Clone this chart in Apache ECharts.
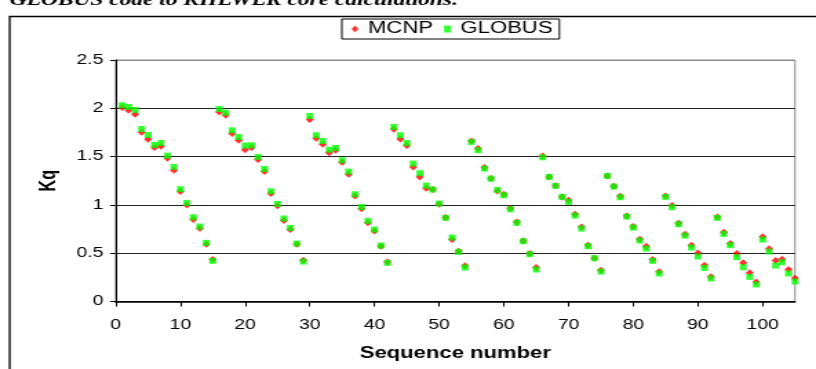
<!DOCTYPE html>
<html>
<head>
<meta charset="utf-8">
<script src="https://cdn.jsdelivr.net/npm/echarts@6/dist/echarts.min.js"></script>
<style>
html,body{margin:0;padding:0;background:#fff;overflow:hidden;width:816px;height:369px;}
#c{width:592px;height:369px;transform:scaleX(1.378378);transform-origin:0 0;}
</style>
</head>
<body>
<div id="c"></div>
<script>
const seqNumbers = [1,2,3,4,5,6,7,8,9,10,11,12,13,14,15,16,17,18,19,20,
21,22,23,24,25,26,27,28,29,30,31,32,33,34,35,36,37,38,39,40,41,42,
43,44,45,46,47,48,49,50,51,52,53,54,55,56,57,58,59,60,61,62,63,64,65,
66,67,68,69,70,71,72,73,74,75,76,77,78,79,80,81,82,83,84,
85,86,87,88,89,90,91,92,93,94,95,96,97,98,99,100,101,102,103,104,105];

const mcnp = [2.007,1.979,1.938,1.752,1.679,1.593,1.607,1.483,1.359,1.138,1.000,0.848,0.759,0.593,0.434,1.962,1.928,1.738,1.669,1.572,
1.593,1.469,1.345,1.117,0.990,0.838,0.745,0.593,0.428,1.883,1.690,1.628,1.541,1.566,1.441,1.317,1.093,0.959,0.814,0.731,0.572,0.410,
1.783,1.683,1.614,1.393,1.290,1.172,1.159,1.007,0.869,0.641,0.521,0.369,1.662,1.583,1.386,1.272,1.145,1.110,0.966,0.824,0.628,0.497,0.352,
1.507,1.290,1.197,1.083,1.048,0.903,0.772,0.583,0.448,0.324,1.300,1.193,1.090,0.886,0.776,0.645,0.572,0.434,0.307,
1.093,0.993,0.810,0.697,0.583,0.503,0.376,0.255,0.876,0.717,0.600,0.497,0.400,0.297,0.203,0.669,0.545,0.424,0.438,0.331,0.241];

const globus = [2.031,2.014,1.983,1.786,1.724,1.621,1.641,1.510,1.393,1.162,1.021,0.872,0.776,0.607,0.421,1.993,1.955,1.772,1.703,1.614,
1.617,1.497,1.372,1.141,1.010,0.859,0.762,0.600,0.414,1.921,1.721,1.662,1.572,1.590,1.462,1.345,1.110,0.979,0.834,0.745,0.579,0.400,
1.807,1.721,1.641,1.428,1.328,1.200,1.159,1.014,0.866,0.662,0.514,0.352,1.652,1.566,1.376,1.272,1.155,1.100,0.955,0.814,0.624,0.490,0.331,
1.493,1.290,1.197,1.083,1.031,0.890,0.755,0.572,0.448,0.310,1.300,1.190,1.079,0.879,0.766,0.631,0.548,0.421,0.290,
1.083,0.976,0.800,0.683,0.559,0.466,0.348,0.238,0.866,0.700,0.583,0.459,0.355,0.255,0.176,0.641,0.517,0.372,0.407,0.290,0.207];

const seriesNames = ['MCNP', 'GLOBUS'];
const xTicks = [0,10,20,30,40,50,60,70,80,90,100];
const yTicks = [0,0.5,1,1.5,2,2.5];

const chart = echarts.init(document.getElementById('c'), null, {renderer: 'canvas', width: 592, height: 369});
const font = 'Liberation Sans';
const pair = (ys) => seqNumbers.map((x, i) => [x, ys[i]]);

chart.setOption({
  animation: false,
  backgroundColor: '#fff',
  graphic: [
    {type: 'rect', shape: {x: 7, y: 16.5, width: 700, height: 500}, style: {fill: 'none', stroke: '#000', lineWidth: 1.3}, z: 0},
    {type: 'text', x: 7, y: 9, style: {text: 'GLOBUS code to KHLWLR core calculations.', font: 'bold italic 17px "Liberation Serif"', fill: '#000', textVerticalAlign: 'bottom'}}
  ],
  legend: {
    left: 248, top: 19,
    orient: 'horizontal',
    backgroundColor: '#fff',
    borderColor: '#000', borderWidth: 1,
    padding: [2, 5, 2, 7],
    itemWidth: 5, itemHeight: 7,
    itemGap: 8,
    textStyle: {fontFamily: font, fontSize: 16, color: '#000', padding: [0, 0, 0, 2]},
    data: [{name: seriesNames[0], icon: 'diamond'}, {name: seriesNames[1], icon: 'rect'}]
  },
  grid: {left: 83.94, right: 15.23, top: 60, bottom: 67.5, show: true, borderColor: '#888', borderWidth: 1, backgroundColor: '#fff'},
  xAxis: {
    type: 'value', min: 0, max: 105, interval: 10,
    name: 'Sequence number', nameLocation: 'middle', nameGap: 44,
    nameTextStyle: {fontFamily: font, fontSize: 16, fontWeight: 'bold', color: '#000'},
    axisLine: {show: true, onZero: false, lineStyle: {color: '#000', width: 1.5}},
    axisTick: {show: true, inside: false, length: 5, lineStyle: {color: '#000'}},
    axisLabel: {fontFamily: font, fontSize: 14, color: '#000', margin: 17, showMaxLabel: false,
      formatter: v => xTicks.indexOf(v) >= 0 ? String(v) : ''},
    splitLine: {show: false}
  },
  yAxis: {
    type: 'value', min: 0, max: 2.5, interval: 0.5,
    name: 'Kq', nameLocation: 'middle', nameGap: 40, nameRotate: 90,
    nameTextStyle: {fontFamily: font, fontSize: 16, fontWeight: 'bold', color: '#000'},
    axisLine: {show: true, onZero: false, lineStyle: {color: '#000', width: 1}},
    axisTick: {show: true, inside: false, length: 4, lineStyle: {color: '#000'}},
    axisLabel: {fontFamily: font, fontSize: 14, color: '#000', margin: 9,
      formatter: v => yTicks.indexOf(v) >= 0 ? String(v) : ''},
    splitLine: {show: true, lineStyle: {color: ['#000', '#222', '#222', '#222', '#222', '#888'], width: 1}}
  },
  series: [
    {name: seriesNames[0], type: 'scatter', symbol: 'diamond', symbolSize: [6, 7],
      itemStyle: {color: '#ff0000'}, data: pair(mcnp), z: 2},
    {name: seriesNames[1], type: 'scatter', symbol: 'rect', symbolSize: [5, 6],
      itemStyle: {color: '#00ff00'}, data: pair(globus), z: 3}
  ]
});
</script>
</body>
</html>
